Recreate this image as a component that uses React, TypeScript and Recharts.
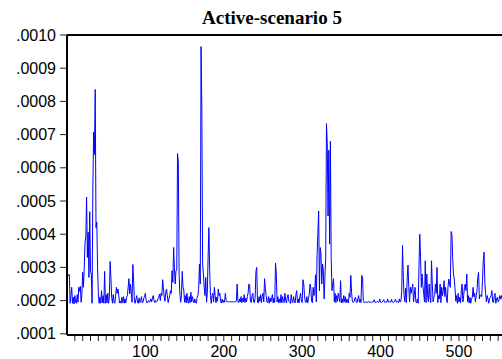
import { Line, LineChart, ReferenceLine, XAxis, YAxis } from "recharts";

const chartTitle = "Active-scenario 5";

// observations 1..560, values in millionths (205 = .000205)
const activeScenario5 = [
  280, 275, 278, 192, 215, 240, 192, 210, 190, 215,
  195, 192, 218, 195, 240, 228, 243, 195, 218, 285,
  240, 300, 375, 392, 512, 330, 406, 270, 468, 290,
  280, 192, 540, 708, 640, 836, 420, 436, 300, 220,
  192, 210, 192, 230, 194, 215, 192, 288, 192, 218,
  193, 222, 192, 210, 318, 270, 210, 192, 218, 195,
  192, 214, 240, 222, 235, 215, 193, 198, 192, 210,
  194, 212, 192, 205, 193, 210, 215, 240, 266, 220,
  250, 222, 195, 309, 262, 198, 192, 205, 215, 194,
  192, 208, 194, 200, 212, 193, 196, 207, 215, 222,
  200, 193, 196, 200, 195, 198, 205, 196, 208, 215,
  200, 194, 200, 196, 198, 205, 210, 220, 200, 222,
  215, 263, 240, 210, 198, 225, 235, 215, 194, 205,
  215, 230, 222, 290, 255, 360, 300, 250, 290, 292,
  643, 617, 280, 220, 195, 215, 288, 240, 232, 195,
  215, 193, 222, 198, 192, 212, 194, 225, 196, 212,
  200, 193, 205, 196, 192, 210, 215, 237, 310, 250,
  965, 780, 310, 280, 240, 215, 270, 195, 225, 330,
  420, 290, 215, 192, 215, 222, 196, 240, 215, 194,
  210, 198, 235, 215, 222, 196, 193, 205, 194, 200,
  195, 222, 200, 196, 197, 196, 197, 196, 197, 196,
  197, 196, 197, 196, 197, 198, 250, 200, 194, 205,
  196, 212, 194, 207, 196, 218, 194, 207, 196, 212,
  222, 250, 248, 198, 194, 215, 222, 196, 194, 210,
  288, 300, 195, 193, 212, 198, 218, 194, 212, 222,
  196, 266, 237, 215, 196, 194, 212, 192, 208, 196,
  205, 218, 193, 207, 195, 313, 280, 196, 212, 193,
  205, 194, 218, 193, 212, 200, 194, 222, 200, 193,
  210, 218, 198, 194, 192, 218, 198, 194, 212, 200,
  193, 218, 230, 194, 205, 193, 212, 222, 198, 194,
  263, 250, 215, 196, 194, 212, 193, 205, 218, 250,
  240, 198, 194, 240, 215, 225, 278, 196, 336, 400,
  470, 230, 360, 340, 250, 310, 290, 205, 270, 330,
  733, 673, 455, 653, 370, 680, 330, 230, 250, 266,
  196, 222, 194, 215, 198, 222, 210, 196, 260, 193,
  205, 194, 215, 196, 212, 193, 205, 196, 193, 222,
  210, 276, 225, 198, 194, 196, 205, 210, 196, 194,
  205, 215, 195, 205, 194, 276, 270, 200, 194, 196,
  195, 196, 194, 196, 197, 195, 196, 194, 197, 195,
  196, 203, 195, 194, 196, 198, 195, 196, 205, 195,
  194, 196, 198, 203, 195, 196, 194, 196, 205, 195,
  196, 198, 195, 204, 196, 194, 196, 198, 204, 196,
  195, 198, 194, 205, 196, 198, 230, 366, 270, 215,
  196, 237, 194, 270, 307, 240, 196, 240, 222, 237,
  250, 196, 215, 240, 196, 193, 205, 192, 300, 400,
  330, 240, 280, 245, 222, 196, 320, 194, 280, 215,
  196, 250, 210, 194, 320, 250, 196, 210, 215, 250,
  222, 300, 194, 215, 205, 250, 194, 240, 215, 230,
  260, 212, 240, 205, 194, 240, 265, 250, 240, 408,
  400, 326, 280, 265, 235, 198, 215, 192, 222, 196,
  210, 194, 230, 250, 196, 215, 240, 250, 230, 280,
  196, 215, 193, 210, 192, 205, 210, 240, 212, 222,
  196, 215, 230, 270, 285, 205, 215, 218, 212, 260,
  320, 346, 255, 222, 196, 215, 205, 192, 205, 210,
  215, 230, 196, 194, 215, 222, 192, 205, 210, 196,
  200, 215, 205, 215, 205, 196, 194, 210, 198, 215,
];

const yTicks = [0.0001, 0.0002, 0.0003, 0.0004, 0.0005, 0.0006, 0.0007, 0.0008, 0.0009, 0.001];

// minor ticks every 10 obs, labels only on the hundreds
const xTicks = [
  10, 20, 30, 40, 50, 60, 70, 80, 90, 100,
  110, 120, 130, 140, 150, 160, 170, 180, 190, 200,
  210, 220, 230, 240, 250, 260, 270, 280, 290, 300,
  310, 320, 330, 340, 350, 360, 370, 380, 390, 400,
  410, 420, 430, 440, 450, 460, 470, 480, 490, 500,
  510, 520, 530, 540, 550,
];

const data = activeScenario5.map((v, i) => ({ obs: i + 1, value: v / 1e6 }));

const tickFont = { fill: "#000", fontSize: 16, fontFamily: "'Liberation Sans', Arial, sans-serif" };

export default function App() {
  return (
    <div
      style={{
        position: "fixed",
        left: 0,
        top: 0,
        width: 502,
        height: 359,
        overflow: "hidden",
        background: "#fff",
      }}
    >
      <div
        style={{
          position: "absolute",
          top: 7,
          left: 272,
          transform: "translateX(-50%)",
          fontFamily: "'Liberation Serif', 'Times New Roman', serif",
          fontWeight: 700,
          fontSize: 19,
          whiteSpace: "nowrap",
          color: "#000",
        }}
      >
        {chartTitle}
      </div>
      <LineChart width={510} height={359} data={data} margin={{ top: 35, right: 4, bottom: 0, left: 0 }}>
        <XAxis
          dataKey="obs"
          type="number"
          domain={[0, 560]}
          ticks={xTicks}
          interval={0}
          tickFormatter={(v: number) => (v % 100 === 0 ? String(v) : "")}
          tick={tickFont}
          tickSize={6}
          tickMargin={5}
          tickLine={{ stroke: "#222" }}
          axisLine={{ stroke: "#000", strokeWidth: 2 }}
          height={24}
          allowDataOverflow
        />
        <YAxis
          type="number"
          domain={[0.0000964, 0.001]}
          ticks={yTicks}
          interval={0}
          tickFormatter={(v: number) => v.toFixed(4).replace(/^0/, "")}
          tick={tickFont}
          tickSize={7}
          tickMargin={4}
          tickLine={{ stroke: "#222" }}
          axisLine={{ stroke: "#000", strokeWidth: 2 }}
          width={67}
          allowDataOverflow
        />
        <ReferenceLine y={0.001} stroke="#000" strokeWidth={2} />
        <ReferenceLine x={560} stroke="#000" strokeWidth={2} />
        <Line
          type="linear"
          dataKey="value"
          stroke="#0000ff"
          strokeWidth={1}
          dot={false}
          activeDot={false}
          isAnimationActive={false}
        />
      </LineChart>
    </div>
  );
}
